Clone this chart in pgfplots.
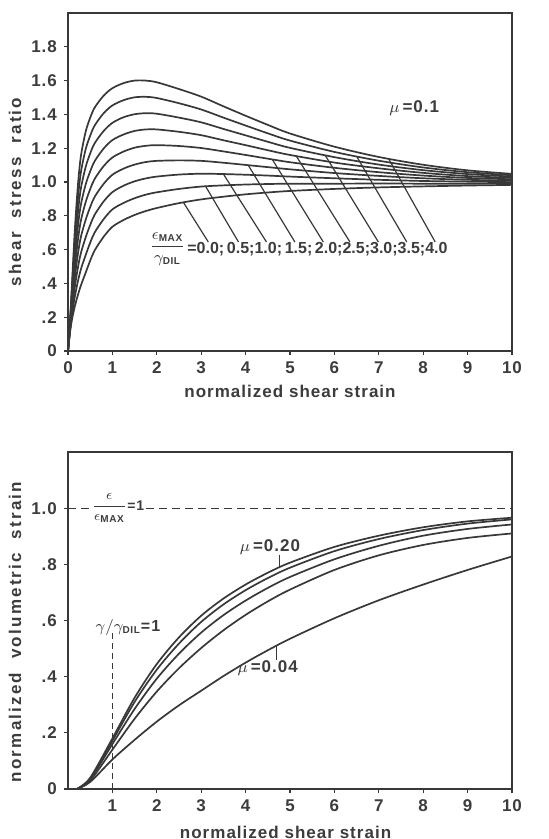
\documentclass[border=0pt]{standalone}
\usepackage{fontspec}
\setmainfont{Liberation Sans}[LetterSpace=6]
\usepackage{pgfplots}
\usepackage{pgfplotstable}
\pgfplotsset{compat=1.18}
\definecolor{ink}{HTML}{383838}
\definecolor{txt}{HTML}{3C3C3C}

% shear stress ratio, one column per eps_max/gamma_dil = 0.0 ... 4.0
\pgfplotstableread{
x    k0    k1    k2    k3    k4    k5    k6    k7    k8
0    0     0     0     0     0     0     0     0     0
0.05 0.120 0.130 0.140 0.150 0.160 0.170 0.180 0.190 0.200
0.1  0.200 0.231 0.263 0.294 0.325 0.356 0.388 0.419 0.450
0.15 0.260 0.315 0.370 0.425 0.480 0.535 0.590 0.645 0.700
0.2  0.310 0.384 0.458 0.531 0.605 0.679 0.753 0.826 0.900
0.25 0.355 0.443 0.531 0.619 0.708 0.796 0.884 0.972 1.060
0.3  0.395 0.492 0.589 0.686 0.783 0.879 0.976 1.073 1.170
0.4  0.465 0.569 0.674 0.778 0.883 0.987 1.091 1.196 1.300
0.5  0.535 0.641 0.746 0.852 0.958 1.063 1.169 1.274 1.380
0.6  0.595 0.701 0.806 0.912 1.018 1.123 1.229 1.334 1.440
0.8  0.675 0.779 0.884 0.988 1.093 1.197 1.301 1.406 1.510
1.0  0.735 0.838 0.940 1.043 1.145 1.248 1.350 1.453 1.555
1.25 0.775 0.876 0.978 1.079 1.180 1.281 1.383 1.484 1.585
1.5  0.805 0.904 1.004 1.103 1.203 1.302 1.401 1.501 1.600
1.75 0.828 0.925 1.021 1.118 1.214 1.311 1.407 1.504 1.600
2.0  0.846 0.939 1.032 1.125 1.218 1.311 1.404 1.497 1.590
2.5  0.875 0.959 1.044 1.128 1.213 1.297 1.381 1.466 1.550
3    0.897 0.973 1.049 1.125 1.201 1.277 1.353 1.429 1.505
3.5  0.913 0.980 1.047 1.114 1.181 1.247 1.314 1.381 1.448
4    0.927 0.985 1.043 1.101 1.160 1.218 1.276 1.334 1.392
4.5  0.938 0.988 1.038 1.088 1.138 1.188 1.238 1.288 1.338
5    0.947 0.990 1.032 1.075 1.117 1.160 1.202 1.245 1.287
6    0.959 0.990 1.022 1.053 1.084 1.115 1.147 1.178 1.209
7    0.968 0.991 1.013 1.036 1.058 1.081 1.103 1.126 1.148
8    0.974 0.990 1.006 1.022 1.038 1.054 1.070 1.086 1.102
9    0.979 0.990 1.002 1.013 1.024 1.035 1.047 1.058 1.069
10   0.983 0.991 0.999 1.007 1.016 1.024 1.032 1.040 1.048
}\stress

% normalized volumetric strain, mu = 0.20 (A) down to 0.04 (E)
\pgfplotstableread{
x    A     B     C     D     E
0.2  0     0     0     0     0
0.5  0.040 0.038 0.035 0.030 0.025
1    0.180 0.172 0.160 0.140 0.105
1.5  0.325 0.310 0.285 0.250 0.175
2    0.445 0.425 0.393 0.347 0.240
2.5  0.540 0.518 0.482 0.430 0.298
3    0.617 0.595 0.557 0.502 0.350
3.5  0.678 0.657 0.619 0.565 0.402
4    0.728 0.708 0.671 0.620 0.450
4.5  0.770 0.751 0.716 0.668 0.494
5    0.806 0.788 0.755 0.710 0.535
6    0.862 0.847 0.818 0.780 0.608
7    0.902 0.890 0.866 0.832 0.672
8    0.932 0.922 0.902 0.869 0.728
9    0.953 0.945 0.926 0.894 0.780
10   0.966 0.960 0.942 0.910 0.828
}\vol

\newcommand{\sub}[1]{\mbox{\tiny\bfseries #1}}

\tikzset{
  ylab/.style={font=\fontsize{8.5}{10}\selectfont\bfseries\addfontfeature{LetterSpace=13}, text=txt},
  lead/.style={ink, line width=0.6pt},
}

\pgfplotsset{
  panel/.style={
    scale only axis, width=222pt,
    xmin=0, xmax=10, ymin=0,
    axis line style={ink, line width=1.1pt},
    tick style={ink, line width=0.6pt},
    tick align=outside, xtick pos=bottom, ytick pos=left,
    major tick length=2pt,
    tick label style={font=\fontsize{8.5}{10}\selectfont\bfseries, text=txt},
    label style={font=\fontsize{8.5}{10}\selectfont\bfseries, text=txt},
    no markers,
    every axis plot post/.append style={ink, solid, line width=0.85pt, smooth, tension=0.5},
  },
}

\begin{document}
\begin{tikzpicture}
\useasboundingbox (-34pt,-244pt) rectangle (240pt,175.5pt);

\begin{axis}[panel, height=169pt, ymax=2,
    at={(0pt,0pt)}, anchor=south west,
    xtick={0,1,2,3,4,5,6,7,8,9,10},
    xticklabels={0,1,2,3,4,5,6,7,8,9,10},
    ytick={0,0.2,0.4,0.6,0.8,1.0,1.2,1.4,1.6,1.8},
    yticklabels={0,.2,.4,.6,.8,1.0,1.2,1.4,1.6,1.8},
    xlabel={normalized shear strain},
    ylabel={shear\ \ stress\ \ ratio},
    xlabel style={at={(axis description cs:0.5,-0.121)}, anchor=center},
    ylabel style={ylab, at={(axis description cs:-0.119,0.47)}, anchor=center}]
  \foreach \k in {0,...,8} {
    \addplot table[x=x, y=k\k] {\stress};
  }
  \draw[lead] (axis cs:3.16,0.645) -- (axis cs:2.60,0.879);
  \draw[lead] (axis cs:3.84,0.645) -- (axis cs:3.10,0.974);
  \draw[lead] (axis cs:4.47,0.645) -- (axis cs:3.50,1.047);
  \draw[lead] (axis cs:5.11,0.645) -- (axis cs:4.06,1.099);
  \draw[lead] (axis cs:5.75,0.645) -- (axis cs:4.60,1.134);
  \draw[lead] (axis cs:6.35,0.645) -- (axis cs:5.14,1.154);
  \draw[lead] (axis cs:6.99,0.645) -- (axis cs:5.79,1.159);
  \draw[lead] (axis cs:7.63,0.645) -- (axis cs:6.50,1.152);
  \draw[lead] (axis cs:8.27,0.645) -- (axis cs:7.22,1.138);
  \node[anchor=east, inner sep=0.5pt, text=txt, font=\fontsize{8}{9}\selectfont\bfseries]
    at (axis cs:2.68,0.605)
    {$\displaystyle\frac{\epsilon_{\sub{MAX}}}{\gamma_{\sub{DIL}}}$};
  \node[anchor=west, inner sep=0pt, text=txt, font=\fontsize{8}{9}\selectfont\bfseries\addfontfeature{LetterSpace=0}]
    at (axis cs:2.68,0.605)
    {=0.0;\,0.5;1.0;\,1.5;\,2.0;2.5;3.0;3.5;4.0};
  \node[text=txt, font=\fontsize{8.5}{10}\selectfont\bfseries]
    at (axis cs:7.8,1.44) {$\mu$\,=0.1};
\end{axis}

\begin{axis}[panel, height=168.5pt, ymax=1.2,
    at={(0pt,-219pt)}, anchor=south west,
    xtick={1,2,3,4,5,6,7,8,9,10},
    xticklabels={1,2,3,4,5,6,7,8,9,10},
    ytick={0,0.2,0.4,0.6,0.8,1.0},
    yticklabels={0,.2,.4,.6,.8,1.0},
    xlabel={normalized shear strain},
    ylabel={normalized\ \ volumetric\ \ strain},
    xlabel style={at={(axis description cs:0.49,-0.128)}, anchor=center},
    ylabel style={ylab, at={(axis description cs:-0.119,0.466)}, anchor=center}]
  \foreach \c in {A,B,C,D,E} {
    \addplot table[x=x, y=\c] {\vol};
  }
  \draw[ink, line width=0.6pt, dash pattern=on 4pt off 2.5pt] (axis cs:0,1) -- (axis cs:10,1);
  \draw[ink, line width=0.6pt, dash pattern=on 3pt off 2pt] (axis cs:1,0) -- (axis cs:1,0.555);
  \node[fill=white, inner sep=0.6pt, text=txt, font=\fontsize{7}{8}\selectfont\bfseries]
    at (axis cs:1.12,1.0) {$\displaystyle\frac{\epsilon}{\epsilon_{\sub{MAX}}}$=1};
  \node[text=txt, font=\fontsize{8}{9}\selectfont\bfseries]
    at (axis cs:1.35,0.575) {$\gamma/\gamma_{\sub{DIL}}$=1};
  \node[text=txt, font=\fontsize{8.5}{10}\selectfont\bfseries]
    at (axis cs:4.55,0.86) {$\mu$\,=0.20};
  \draw[lead] (axis cs:4.77,0.835) -- (axis cs:4.77,0.792);
  \node[text=txt, font=\fontsize{8.5}{10}\selectfont\bfseries]
    at (axis cs:4.5,0.43) {$\mu$\,=0.04};
  \draw[lead] (axis cs:4.69,0.46) -- (axis cs:4.69,0.508);
\end{axis}
\end{tikzpicture}
\end{document}
